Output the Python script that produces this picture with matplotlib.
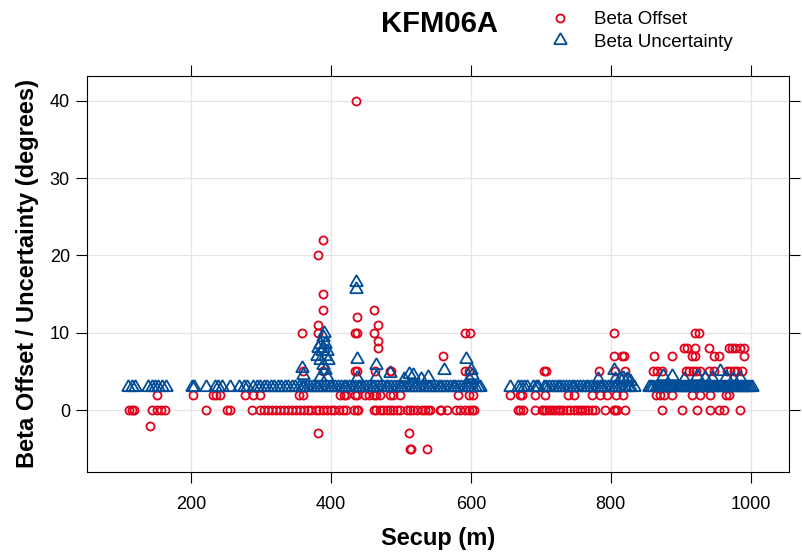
import matplotlib
matplotlib.use('Agg')
import matplotlib.pyplot as plt

plt.rcParams['font.family'] = ['Liberation Sans', 'DejaVu Sans']

# Beta offset (degrees) - most readings sit on 0 or 2, the rest listed pairwise
offset_zero = [112, 115, 119, 144, 151, 157, 163, 222, 251, 256, 287,
               299, 304, 310, 316, 321, 327, 333, 338, 344, 350, 356, 361, 367, 372,
               378, 383, 388, 394, 400, 405, 411, 417, 422,
               433, 437, 439, 461, 465, 470, 475, 480, 485, 489, 494, 499, 509, 513,
               517, 523, 530, 534, 539, 542, 556, 558, 566, 579, 584, 592, 597, 601, 604,
               668, 670, 675, 692, 702, 704, 708, 712, 716, 720, 724, 728, 732, 737,
               742, 747, 751, 756, 759, 763, 768, 773, 778, 792, 804, 806, 809, 821,
               873, 902, 923, 942, 954, 962, 985]
offset_two = [152, 203, 231, 236, 241, 277, 289, 298, 355, 360, 413, 418, 422, 434,
              437, 449, 454, 461, 465, 470, 485, 489, 498, 582, 597, 603,
              656, 670, 673, 692, 706, 739, 747, 773, 785, 794, 807, 818,
              864, 870, 876, 888, 916, 928, 942, 964, 969]
offset_secup = [141, 381, 511, 513, 515, 537,
                359, 360, 382, 382, 382, 389, 389, 389, 389,
                436, 437, 435, 437, 435, 437,
                462, 462, 467, 467, 467, 463, 484, 486,
                560, 592, 599, 592, 597,
                705, 707, 783, 804, 804, 816, 819, 806, 820,
                921, 926,
                904, 909, 921, 940, 969, 973, 978, 985, 990,
                862, 888, 916, 921, 947, 954, 991,
                861, 866, 873, 907, 912, 917, 922, 928, 940, 947, 966, 971, 976, 981, 988]
offset_value = [-2, -3, -3, -5, -5, -5,
                10, 5, 10, 11, 20, 22, 15, 13, 5,
                40, 12, 10, 10, 5, 5,
                13, 10, 11, 9, 8, 5, 5, 5,
                7, 10, 10, 5, 5,
                5, 5, 5, 10, 7, 7, 7, 5, 5,
                10, 10,
                8, 8, 8, 8, 8, 8, 8, 8, 8,
                7, 7, 7, 7, 7, 7, 7,
                5, 5, 5, 5, 5, 5, 5, 5, 5, 5, 5, 5, 5, 5, 5]

# Beta uncertainty (degrees) - baseline of 3 plus the higher readings
unc_three = [110, 115, 120, 139, 144, 149, 153, 158, 164, 201, 204, 222, 234, 239,
             244, 256, 268, 275, 280,
             289, 294, 299, 304, 309, 314, 319, 324, 329, 334, 339, 344, 349, 354,
             358, 362, 366, 370, 374, 378, 382, 386, 390, 394, 398, 402, 406, 410,
             414, 418, 422, 426, 430, 434, 438, 442, 446, 450, 454, 458, 462, 466,
             470, 474, 478, 482, 486, 490, 494, 498, 502, 506, 510, 514, 518, 522,
             526, 530, 534, 538, 542, 546, 550, 554, 558, 562, 566, 570, 574, 578,
             582, 586, 590, 594, 598, 602, 606, 610, 613,
             656, 668, 672, 676, 680, 689, 693, 696, 704, 708, 712, 716, 720, 724,
             728, 732, 736, 740, 744, 748, 752, 756, 760, 764, 768, 772, 776, 780,
             784, 788, 792, 796, 800, 804, 808, 812, 816, 820, 824, 828, 833,
             854, 858, 861, 864, 867, 870, 873, 876, 879, 882, 885, 888, 891, 894,
             897, 900, 903, 906, 909, 912, 915, 918, 921, 924, 927, 930, 933, 936,
             939, 942, 945, 948, 951, 954, 957, 960, 963, 966, 969, 972, 975, 978,
             981, 984, 987, 990, 993, 996, 999, 1002]
unc_secup = [359, 360,
             390.6, 389.2, 384.4, 391.5, 382.0, 389.2, 386.8, 394.9, 379.6, 391.5,
             384.4, 396.3, 389.2, 391.5, 384.4, 393.9,
             436, 436, 437, 437, 464, 465, 485, 505, 512, 517, 528, 538, 561, 593,
             600, 602, 598,
             782, 804, 806, 813, 818, 823, 827,
             875, 887, 923, 956, 945, 965, 975, 985, 905, 935]
unc_value = [5.5, 4.5,
             10.0, 9.4, 8.6, 8.6, 8.0, 8.0, 7.6, 7.6, 7.0, 7.0,
             6.5, 6.5, 5.8, 5.2, 4.3, 4.3,
             16.6, 15.6, 6.6, 4.2, 5.8, 4.3, 4.8, 4.0, 4.7, 4.5, 4.0, 4.3, 5.2, 6.6,
             5.2, 4.5, 4.0,
             4.0, 5.2, 4.0, 4.0, 4.2, 4.0, 3.8,
             4.4, 4.4, 4.4, 5.1, 4.2, 4.3, 4.0, 4.2, 4.0, 4.1]

off_x = offset_zero + offset_two + offset_secup
off_y = [0] * len(offset_zero) + [2] * len(offset_two) + offset_value
unc_x = unc_three + unc_secup
unc_y = [3] * len(unc_three) + unc_value

red = '#e3001b'
blue = '#004c97'

fig = plt.figure(figsize=(8.03, 5.58), dpi=100)
ax = fig.add_axes([87 / 803, 86 / 558, 702 / 803, 396 / 558])

ax.plot(off_x, off_y, linestyle='none', marker='o', ms=5.8, mfc='none',
        mec=red, mew=1.3, label='Beta Offset')
ax.plot(unc_x, unc_y, linestyle='none', marker=(3, 0, 0), ms=10.6, mfc='none',
        mec=blue, mew=1.3, label='Beta Uncertainty')

ax.set_xlim(51.3, 1054.7)
ax.set_ylim(-8.0, 43.2)
ax.set_xticks([200, 400, 600, 800, 1000])
ax.set_yticks([0, 10, 20, 30, 40])
ax.tick_params(direction='out', length=8, width=0.8, top=True, right=True,
               labelsize=13, color='black')
ax.tick_params(axis='x', pad=9.4)
ax.tick_params(axis='y', pad=4.3)
ax.grid(True, color='#e5e5e5', linewidth=0.9)
ax.set_axisbelow(True)
for sp in ax.spines.values():
    sp.set_linewidth(0.8)

ax.set_xlabel('Secup (m)', fontsize=17, fontweight='bold')
ax.xaxis.set_label_coords(0.5, -0.14)
ax.set_ylabel('Beta Offset / Uncertainty (degrees)', fontsize=17, fontweight='bold')
ax.yaxis.set_label_coords(-0.068, 0.5)

fig.text(439 / 803, 1 - 24 / 558, 'KFM06A', ha='center', va='center',
         fontsize=21, fontweight='bold')

handles, labels = ax.get_legend_handles_labels()
fig.legend(handles, labels, loc='upper left', bbox_to_anchor=(551 / 803, 1 - 11 / 558),
           frameon=False, fontsize=13.5, handlelength=1.0, handletextpad=1.3,
           labelspacing=0.3, borderpad=0, borderaxespad=0)

fig.savefig('out.png', dpi=100)
